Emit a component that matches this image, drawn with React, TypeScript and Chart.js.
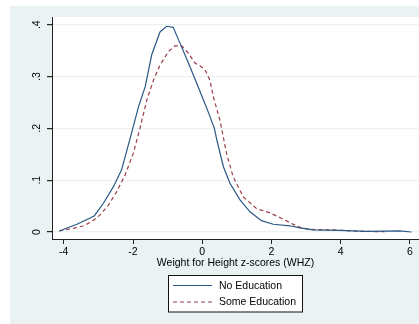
import React, { useEffect, useRef } from "react";
import { Chart, registerables } from "chart.js";

Chart.register(...registerables);

// ---- data ----
const noEduX = [-4.13, -3.62, -3.12, -2.86, -2.57, -2.33, -2.07, -1.84, -1.65, -1.46, -1.22, -1.03, -0.84, -0.64, -0.4, -0.16, 0.13, 0.35, 0.42, 0.61, 0.8, 1.09, 1.38, 1.71, 2.05, 2.53, 2.82, 3.2, 3.97, 4.74, 5.7, 6.04];
const noEduY = [0.002, 0.015, 0.031, 0.055, 0.087, 0.12, 0.184, 0.242, 0.28, 0.342, 0.386, 0.397, 0.395, 0.364, 0.326, 0.287, 0.239, 0.2, 0.178, 0.126, 0.094, 0.062, 0.039, 0.022, 0.015, 0.012, 0.008, 0.004, 0.003, 0.0013, 0.002, 0.0];

const someEduX = [-4.13, -3.72, -3.43, -3.19, -2.95, -2.71, -2.47, -2.23, -1.99, -1.8, -1.6, -1.41, -1.22, -0.98, -0.79, -0.59, -0.4, -0.21, -0.07, 0.08, 0.22, 0.32, 0.51, 0.7, 0.89, 1.18, 1.57, 1.95, 2.24, 2.53, 2.82, 3.11, 3.78, 4.55, 5.27];
const someEduY = [0.002, 0.007, 0.012, 0.02, 0.033, 0.052, 0.078, 0.11, 0.152, 0.2, 0.255, 0.293, 0.322, 0.348, 0.359, 0.359, 0.345, 0.326, 0.321, 0.313, 0.293, 0.261, 0.216, 0.152, 0.107, 0.068, 0.045, 0.037, 0.028, 0.018, 0.009, 0.005, 0.004, 0.0013, 0.0006];

const seriesLabels = ["No Education", "Some Education"];
const xTicks = [-4, -2, 0, 2, 4, 6];
const xTickLabels = ["-4", "-2", "0", "2", "4", "6"];
const yTicks = [0, 0.1, 0.2, 0.3, 0.4];
const yTickLabels = ["0", ".1", ".2", ".3", ".4"];
const xTitle = "Weight for Height z-scores (WHZ)";

// ---- styles ----
const FONT = "'Liberation Sans', Arial, sans-serif";
const FONT_SIZE = 10.5;
const BG = "#eaf2f3";
const NAVY = "#2a5886";
const MAROON = "#9a3d44";
const AXIS = "#222";

const stataPlugin = {
  id: "stataLook",
  beforeDraw(chart: any) {
    const { ctx, width, height, chartArea } = chart;
    ctx.save();
    ctx.fillStyle = "#ffffff";
    ctx.fillRect(0, 0, width, height);
    ctx.fillStyle = BG;
    ctx.fillRect(10, 6, width - 10, height - 6);
    ctx.fillStyle = "#ffffff";
    ctx.fillRect(chartArea.left, chartArea.top, chartArea.right - chartArea.left, chartArea.bottom - chartArea.top);
    ctx.restore();
  },
  afterDraw(chart: any) {
    const { ctx } = chart;
    const ys = chart.scales.y;
    ctx.save();
    ctx.font = `${FONT_SIZE}px ${FONT}`;
    ctx.fillStyle = "#000";
    yTicks.forEach((v, i) => {
      const py = ys.getPixelForValue(v);
      ctx.save();
      ctx.translate(40, py);
      ctx.rotate(-Math.PI / 2);
      ctx.textAlign = "center";
      ctx.textBaseline = "alphabetic";
      ctx.fillText(yTickLabels[i], 0, 0);
      ctx.restore();
    });

    // legend box
    const bx = 168.5, by = 275.5, bw = 134, bh = 36.5;
    ctx.fillStyle = "#ffffff";
    ctx.fillRect(bx, by, bw, bh);
    ctx.strokeStyle = "#111";
    ctx.lineWidth = 1;
    ctx.strokeRect(bx, by, bw, bh);
    chart.data.datasets.forEach((ds: any, i: number) => {
      const ly = 285.5 + i * 16.5;
      ctx.beginPath();
      ctx.strokeStyle = ds.borderColor;
      ctx.lineWidth = ds.borderWidth;
      ctx.setLineDash(ds.borderDash || []);
      ctx.moveTo(173, ly);
      ctx.lineTo(212, ly);
      ctx.stroke();
      ctx.setLineDash([]);
      ctx.fillStyle = "#000";
      ctx.textAlign = "left";
      ctx.textBaseline = "middle";
      ctx.fillText(ds.label, 219, ly + 0.5);
    });
    ctx.restore();
  },
};

export default function App() {
  const ref = useRef<HTMLCanvasElement | null>(null);

  useEffect(() => {
    if (!ref.current) return;
    const chart = new Chart(ref.current, {
      type: "line",
      data: {
        datasets: [
          {
            label: seriesLabels[0],
            data: noEduX.map((x, i) => ({ x, y: noEduY[i] })),
            borderColor: NAVY,
            borderWidth: 1.2,
            pointRadius: 0,
            tension: 0,
            fill: false,
          },
          {
            label: seriesLabels[1],
            data: someEduX.map((x, i) => ({ x, y: someEduY[i] })),
            borderColor: MAROON,
            borderWidth: 1.2,
            borderDash: [4, 3],
            pointRadius: 0,
            tension: 0,
            fill: false,
          },
        ],
      },
      options: {
        responsive: false,
        animation: false,
        layout: { padding: { left: 0, top: 17, right: 0, bottom: 54.7 } },
        plugins: { legend: { display: false }, tooltip: { enabled: false } },
        scales: {
          x: {
            type: "linear",
            min: -4.34,
            max: 6.26,
            afterBuildTicks: (s: any) => {
              s.ticks = xTicks.map((v) => ({ value: v }));
            },
            afterFit: (s: any) => {
              s.height = 30.3;
            },
            ticks: {
              color: "#000",
              font: { family: FONT, size: FONT_SIZE },
              padding: 2,
              maxRotation: 0,
              minRotation: 0,
              autoSkip: false,
              callback: (v: any) => xTickLabels[xTicks.indexOf(Number(v))] ?? String(v),
            },
            grid: { drawOnChartArea: false, drawTicks: true, tickLength: 5, tickColor: AXIS, lineWidth: 1 },
            border: { color: AXIS, width: 1 },
            title: {
              display: true,
              text: xTitle,
              color: "#000",
              font: { family: FONT, size: FONT_SIZE },
              padding: 0,
            },
          },
          y: {
            type: "linear",
            min: -0.0135,
            max: 0.4149,
            afterBuildTicks: (s: any) => {
              s.ticks = yTicks.map((v) => ({ value: v }));
            },
            afterFit: (s: any) => {
              s.width = 52;
            },
            ticks: {
              color: "rgba(0,0,0,0)",
              font: { family: FONT, size: FONT_SIZE },
            },
            grid: { color: BG, tickColor: AXIS, tickLength: 5, lineWidth: 1.2 },
            border: { color: AXIS, width: 1 },
          },
        },
      },
      plugins: [stataPlugin],
    } as any);
    return () => chart.destroy();
  }, []);

  return (
    <div style={{ position: "fixed", left: 0, top: 0, width: 419, height: 324 }}>
      <canvas ref={ref} width={419} height={324} style={{ display: "block", width: 419, height: 324 }} />
    </div>
  );
}
